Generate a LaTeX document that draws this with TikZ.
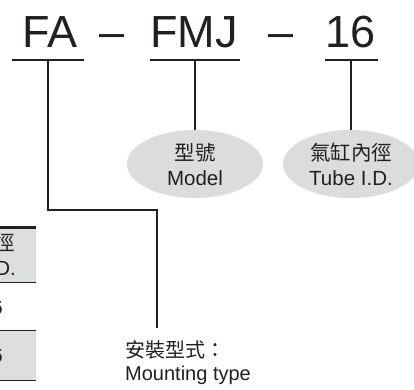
\documentclass[tikz,border=0pt]{standalone}
\usepackage{fontspec}
\setmainfont{Liberation Sans}
\newfontfamily\cjk{Noto Sans CJK TC}
\usetikzlibrary{shapes.geometric,positioning}
\definecolor{inkgray}{RGB}{35,31,32}
\definecolor{bubblegray}{RGB}{220,220,221}
\definecolor{cellgray}{RGB}{221,222,223}

\begin{document}
\begin{tikzpicture}[x=1pt, y=-1pt,
  code/.style={font=\fontsize{45}{50}\selectfont, text=inkgray,
    anchor=base, inner sep=0pt},
  bubble/.style={ellipse, fill=bubblegray, minimum width=136pt,
    minimum height=68pt, inner sep=0pt, align=center, text=inkgray,
    font=\fontsize{20.5}{25}\selectfont},
  lead/.style={line width=1.5pt, draw=inkgray},
  rule/.style={line width=1pt, draw=inkgray},
  cell/.style={font=\fontsize{20.5}{25}\selectfont, text=inkgray,
    align=center, inner sep=0pt}
]
\clip (0,0) rectangle (414,389);

% part number
\node[code] (FA)  at (50,47)  {FA};
\node[code] (d1)  at (112,47) {–};
\node[code] (FMJ) at (194,47) {FMJ};
\node[code] (d2)  at (281,47) {–};
\node[code] (ID)  at (351,47) {16};
\draw[lead] (12,60) -- (84,60);
\draw[lead] (150,60) -- (240,60);
\draw[lead] (325,60) -- (378,60);
\coordinate (uFA)  at (48,60);
\coordinate (uFMJ) at (195,60);
\coordinate (uID)  at (351,60);

% meanings
\node[bubble] (model) at (195,164) {{\cjk 型號}\\Model};
\node[bubble] (bore)  at (351,164) {{\cjk 氣缸內徑}\\Tube I.D.};
\coordinate (mEnd) at (157,328);
\node[font=\fontsize{20}{23}\selectfont, text=inkgray, align=left,
  inner sep=0pt, anchor=west] (mount) at (125,363)
  {{\cjk 安裝型式：}\\Mounting type};

\draw[lead] (uFMJ) -- (model.north);
\draw[lead] (uID) -- (bore.north);
\draw[lead] (uFA) -- ++(0,150) -| (mEnd);

% table edge
\fill[cellgray] (0,228) rectangle (36,282);
\fill[cellgray] (0,330) rectangle (36,380);
\draw[line width=2.5pt, draw=inkgray] (0,227.5) -- (36,227.5);
\draw[rule] (0,282) -- (36,282);
\draw[rule] (0,330) -- (36,330);
\draw[rule] (0,380) -- (36,380);
\node[cell, anchor=east] (c1) at (16,254) {{\cjk 氣缸內徑}\\Tube I.D.};
\node[cell, anchor=base east] (c2) at (3,314) {16};
\node[cell, anchor=base east] (c3) at (3,362) {16};
\end{tikzpicture}
\end{document}
